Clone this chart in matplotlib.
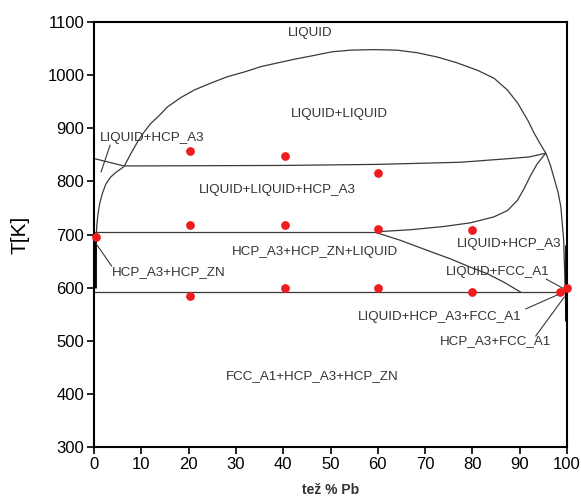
import matplotlib
matplotlib.use("Agg")
import matplotlib.pyplot as plt

plt.rcParams['font.family'] = ['Liberation Sans', 'DejaVu Sans']

# ---- data ----
# experimental points (x = wt% Pb, T in K)
pts_x = [0.4, 20.3, 40.3, 60.1, 20.3, 40.3, 60.1, 80.0, 20.3, 40.3, 60.1, 80.0, 98.6, 99.9]
pts_T = [695, 857, 848, 816, 717, 718, 710, 709, 584, 600, 600, 591, 591, 599]

# miscibility gap (LIQUID+LIQUID dome) continuing down on the Pb side
dome_x = [6.36, 7.77, 9.18, 10.6, 12.0, 13.8, 15.5, 18.4, 21.2, 24.7, 28.2, 31.8, 35.3,
          38.8, 42.4, 45.9, 50.4, 54.2, 59.2, 64.1, 68.4, 72.6, 76.8, 81.1, 84.6, 87.4,
          89.6, 91.7, 93.1, 94.5, 95.6, 96.5, 97.3, 98.1, 98.7, 99.3, 99.6, 99.8]
dome_T = [828, 852, 874, 893, 909, 924, 940, 958, 972, 985, 997, 1006, 1016,
          1023, 1030, 1036, 1044, 1047, 1048, 1047, 1042, 1034, 1023, 1009, 994, 972,
          947, 915, 890, 868, 852, 830, 805, 780, 752, 689, 600, 540]

# Zn-side liquidus below monotectic
liqL_x = [6.36, 4.8, 3.5, 2.5, 1.76, 1.2, 0.85, 0.6, 0.5, 0.35, 0.25]
liqL_T = [828, 818, 808, 795, 777, 758, 739, 718, 701, 650, 600]

# short line from left axis to monotectic
seg0_x = [0.0, 6.36]
seg0_T = [843, 829]

# monotectic horizontal (slightly rising toward Pb)
mono_x = [6.36, 40.0, 60.0, 77.5, 88.0, 92.0, 95.5]
mono_T = [829, 830, 832, 836, 843, 846, 853]

# eutectic horizontal ~705 K
eut1_x = [0.0, 59.5]
eut1_T = [705, 705]

# upper curve from eutectic to monotectic
up_x = [59.5, 66.9, 73.9, 79.6, 84.5, 87.4, 89.5, 90.9, 92.3, 93.7, 95.5]
up_T = [705, 709, 715, 722, 733, 745, 764, 786, 811, 833, 853]

# lower curve from eutectic down to lower invariant
lo_x = [59.5, 64.8, 70.5, 75.4, 79.7, 83.2, 86.7, 90.3]
lo_T = [704, 689, 670, 654, 638, 626, 610, 591]

# lower invariant ~591 K
eut2_x = [0.0, 98.6]
eut2_T = [591, 591]

# thick edge phase lines
edgeL_x = [0.25, 0.25]
edgeL_T = [700, 600]
edgeR_x = [99.85, 99.85]
edgeR_T = [680, 538]

# leader lines: (x0, T0, x1, T1)
leaders = [
    (3.4, 868, 1.5, 818),
    (0.5, 682, 3.7, 641),
    (95.6, 616, 99.1, 599),
    (91.3, 560, 98.4, 588),
    (93.4, 509, 99.4, 582),
]

# region labels: (text, left x, centre T)
labels = [
    ("LIQUID", 41.0, 1079),
    ("LIQUID+LIQUID", 41.7, 926),
    ("LIQUID+HCP_A3", 1.3, 882),
    ("LIQUID+LIQUID+HCP_A3", 22.1, 784),
    ("HCP_A3+HCP_ZN+LIQUID", 29.2, 667),
    ("LIQUID+HCP_A3", 76.8, 682),
    ("LIQUID+FCC_A1", 74.4, 629),
    ("LIQUID+HCP_A3+FCC_A1", 55.8, 544),
    ("HCP_A3+FCC_A1", 73.2, 500),
    ("FCC_A1+HCP_A3+HCP_ZN", 27.8, 434),
    ("HCP_A3+HCP_ZN", 3.75, 629),
]

x_ticks = [0, 10, 20, 30, 40, 50, 60, 70, 80, 90, 100]
y_ticks = [300, 400, 500, 600, 700, 800, 900, 1000, 1100]

# ---- figure ----
fig = plt.figure(figsize=(5.81, 4.98), dpi=100)
ax = fig.add_axes([94/581, 1 - 447/498, (567-94)/581, (447-22)/498])

lc = '#3a3a3a'
lw = 0.9
for xs, ts in [(dome_x, dome_T), (liqL_x, liqL_T), (seg0_x, seg0_T), (mono_x, mono_T),
               (eut1_x, eut1_T), (up_x, up_T), (lo_x, lo_T), (eut2_x, eut2_T)]:
    ax.plot(xs, ts, color=lc, lw=lw, solid_capstyle='butt', solid_joinstyle='round')
for xs, ts in [(edgeL_x, edgeL_T), (edgeR_x, edgeR_T)]:
    ax.plot(xs, ts, color='black', lw=2.0, solid_capstyle='butt')
for x0, t0, x1, t1 in leaders:
    ax.plot([x0, x1], [t0, t1], color=lc, lw=0.8)

ax.plot(pts_x, pts_T, 'o', color='#ee1c1c', markersize=6.3, markeredgewidth=0,
        clip_on=False, zorder=5)

for txt, x, t in labels:
    ax.text(x, t, txt, ha='left', va='center', fontsize=9.6, color='#333333')

ax.set_xlim(0, 100)
ax.set_ylim(300, 1100)
ax.set_xticks(x_ticks)
ax.set_yticks(y_ticks)
ax.tick_params(direction='out', length=5, width=1.2, labelsize=12, pad=2,
               colors='black')
for s in ax.spines.values():
    s.set_linewidth(1.5)
    s.set_color('black')

ax.set_ylabel('T[K]', fontsize=15, labelpad=13)
ax.set_xlabel('tež % Pb', fontsize=10, fontweight='bold', color='#333333', labelpad=8)

fig.savefig('out.png', dpi=100)
